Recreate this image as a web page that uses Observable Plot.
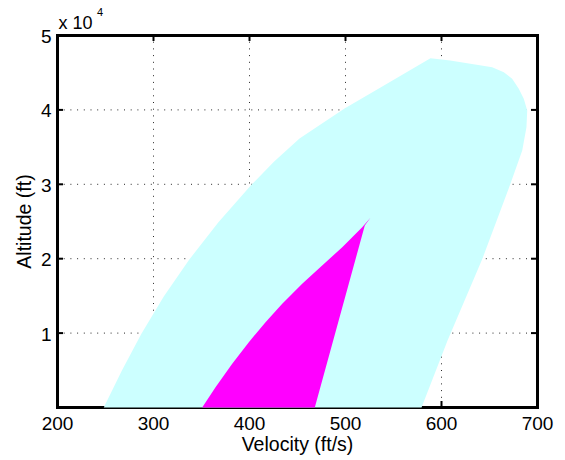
<!DOCTYPE html>
<html>
<head>
<meta charset="utf-8">
<script src="https://cdn.jsdelivr.net/npm/d3@7"></script>
<script src="https://cdn.jsdelivr.net/npm/@observablehq/plot@0.6"></script>
<style>
  html, body { margin: 0; padding: 0; background: #fff; }
  #chart svg { display: block; }
</style>
</head>
<body>
<div id="chart"></div>
<script>
// Tick values and labels
const velocityTicks = [200, 300, 400, 500, 600, 700];
const velocityGrid = [300, 400, 500, 600];
const altitudeTicks = [10000, 20000, 30000, 40000, 50000];
const altitudeTickLabels = ["1", "2", "3", "4", "5"];
const altitudeGrid = [10000, 20000, 30000, 40000];

// Outer (cyan) flight envelope outline
const envelopeVelocity = [248.2, 267.1, 287.4, 310.7, 337.3, 367.4, 402, 425.7, 452.1, 499, 536.5, 588.5, 609, 652.8, 664.9, 673.6, 680.5, 685.7, 689.3, 688.5, 684.1, 671.9, 642.7, 606.3, 579.2];
const envelopeAltitude = [0, 4970, 9900, 14920, 19890, 24860, 29930, 33060, 36150, 40190, 43010, 46950, 46640, 45740, 45060, 44180, 42830, 41490, 39920, 37670, 34540, 30110, 20030, 9000, 0];

// Inner (magenta) region outline
const regionVelocity = [350.7, 364.6, 382, 399.3, 416.7, 434.1, 454.9, 475.7, 496.6, 517.4, 526, 520.1, 468];
const regionAltitude = [0, 2730, 5870, 8780, 11460, 13940, 16630, 19090, 21540, 24230, 25500, 24460, 0];

const envelope = envelopeVelocity.map((v, i) => ({v, h: envelopeAltitude[i]}));
const region = regionVelocity.map((v, i) => ({v, h: regionAltitude[i]}));

const W = 565, H = 460;
const mL = 57, mR = 28, mT = 35, mB = 53;
const fw = W - mL - mR, fh = H - mT - mB;
const tickLen = 6;
const font = "'Liberation Sans', Arial, Helvetica, sans-serif";

const chart = Plot.plot({
  width: W,
  height: H,
  marginLeft: mL,
  marginRight: mR,
  marginTop: mT,
  marginBottom: mB,
  style: {fontFamily: font, background: "#fff", color: "#000"},
  x: {domain: [200, 700], axis: null},
  y: {domain: [0, 50000], axis: null},
  marks: [
    // dotted grid
    Plot.ruleX(velocityGrid, {x: d => d, stroke: "#000", strokeWidth: 1, strokeDasharray: "1,5.7", strokeOpacity: 0.85}),
    Plot.ruleY(altitudeGrid, {y: d => d, stroke: "#000", strokeWidth: 1, strokeDasharray: "1,5.7", strokeOpacity: 0.85}),
    // box
    Plot.frame({stroke: "#000", strokeWidth: 3}),
    // inward ticks
    Plot.ruleX(velocityGrid, {x: d => d, insetTop: fh - tickLen, stroke: "#000", strokeWidth: 2}),
    Plot.ruleX(velocityGrid, {x: d => d, insetBottom: fh - tickLen, stroke: "#000", strokeWidth: 2}),
    Plot.ruleY(altitudeGrid, {y: d => d, insetRight: fw - tickLen, stroke: "#000", strokeWidth: 2}),
    Plot.ruleY(altitudeGrid, {y: d => d, insetLeft: fw - tickLen, stroke: "#000", strokeWidth: 2}),
    // filled regions
    Plot.line(envelope, {x: "v", y: "h", fill: "#ccffff", stroke: "none"}),
    Plot.line(region, {x: "v", y: "h", fill: "#ff00ff", stroke: "none"}),
    // tick labels
    Plot.text(velocityTicks, {x: d => d, y: 0, dy: 16.5, lineAnchor: "middle", text: d => String(d), fontSize: 19, fill: "#000"}),
    Plot.text(altitudeTicks, {x: 200, y: d => d, dx: -6, dy: 1.5, textAnchor: "end", lineAnchor: "middle", text: (d, i) => altitudeTickLabels[i], fontSize: 19, fill: "#000"}),
    // exponent label
    Plot.text(["x 10"], {frameAnchor: "top-left", dx: 1, dy: -7, lineAnchor: "bottom", textAnchor: "start", text: d => d, fontSize: 18, fill: "#000"}),
    Plot.text(["4"], {frameAnchor: "top-left", dx: 39.5, dy: -20, lineAnchor: "bottom", textAnchor: "start", text: d => d, fontSize: 11, fill: "#000"}),
    // axis titles
    Plot.text(["Velocity (ft/s)"], {frameAnchor: "bottom", dy: 43, lineAnchor: "bottom", textAnchor: "middle", text: d => d, fontSize: 19.5, fill: "#000"}),
    Plot.text(["Altitude (ft)"], {frameAnchor: "left", dx: -33, rotate: -90, textAnchor: "middle", lineAnchor: "middle", text: d => d, fontSize: 19.5, fill: "#000"})
  ]
});
document.getElementById("chart").appendChild(chart);
</script>
</body>
</html>
